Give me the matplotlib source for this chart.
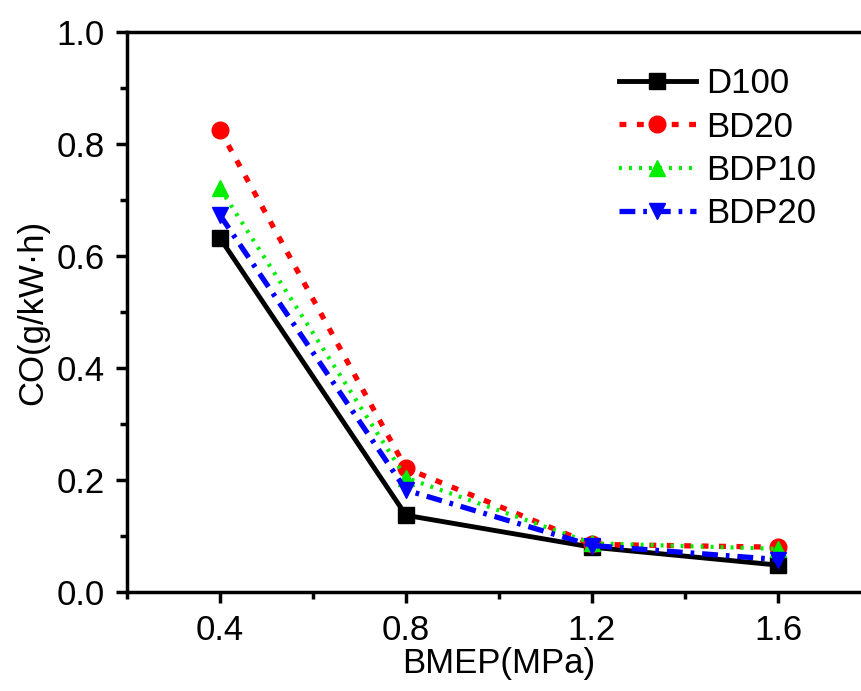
import numpy as np
import matplotlib.pyplot as plt
from matplotlib.ticker import MultipleLocator

plt.rcParams['font.family'] = ['Liberation Sans', 'DejaVu Sans']

# BMEP load points and CO emissions for each fuel
bmep = [0.4, 0.8, 1.2, 1.6]
d100 = [0.632, 0.137, 0.080, 0.048]
bd20 = [0.825, 0.221, 0.085, 0.080]
bdp10 = [0.721, 0.204, 0.087, 0.077]
bdp20 = [0.673, 0.182, 0.083, 0.058]

fig = plt.figure(figsize=(8.62, 6.91), dpi=100)
ax = fig.add_axes([0.1473, 0.1433, 0.8631, 0.8104])

ax.plot(bmep, d100, color='black', ls='-', lw=3.5, marker='s', ms=11, label='D100')
ax.plot(bmep, bd20, color='red', ls=(0, (1.3, 2.0)), lw=3.8, marker='o', ms=12, label='BD20')
ax.plot(bmep, bdp10, color='#00ee00', ls=(0, (0.7, 1.7)), lw=3, marker='^', ms=12, label='BDP10')
ax.plot(bmep, bdp20, color='blue', ls=(0, (3, 1.5, 0.7, 1.5)), lw=3.8, marker='v', ms=12, label='BDP20')

ax.set_xlim(0.2, 1.8)
ax.set_ylim(0.0, 1.0)
ax.xaxis.set_major_locator(MultipleLocator(0.4))
ax.xaxis.set_minor_locator(MultipleLocator(0.2))
ax.yaxis.set_major_locator(MultipleLocator(0.2))
ax.yaxis.set_minor_locator(MultipleLocator(0.1))
ax.set_xticks([0.4, 0.8, 1.2, 1.6])
ax.set_xticklabels(['0.4', '0.8', '1.2', '1.6'])

for s in ax.spines.values():
    s.set_linewidth(2.5)
ax.spines['right'].set_visible(False)
ax.tick_params(which='major', direction='out', length=8, width=2.5, labelsize=25, pad=8)
ax.tick_params(which='minor', direction='out', length=5, width=2.5)

ax.set_xlabel('BMEP(MPa)', fontsize=25, labelpad=0)
ax.set_ylabel('CO(g/kW·h)', fontsize=25, labelpad=5)

ax.legend(loc='upper left', bbox_to_anchor=(0.643, 0.962), frameon=False, fontsize=25,
          handlelength=2.2, handletextpad=0.3, labelspacing=0.3, borderaxespad=0)

fig.savefig('out.png', dpi=100)
